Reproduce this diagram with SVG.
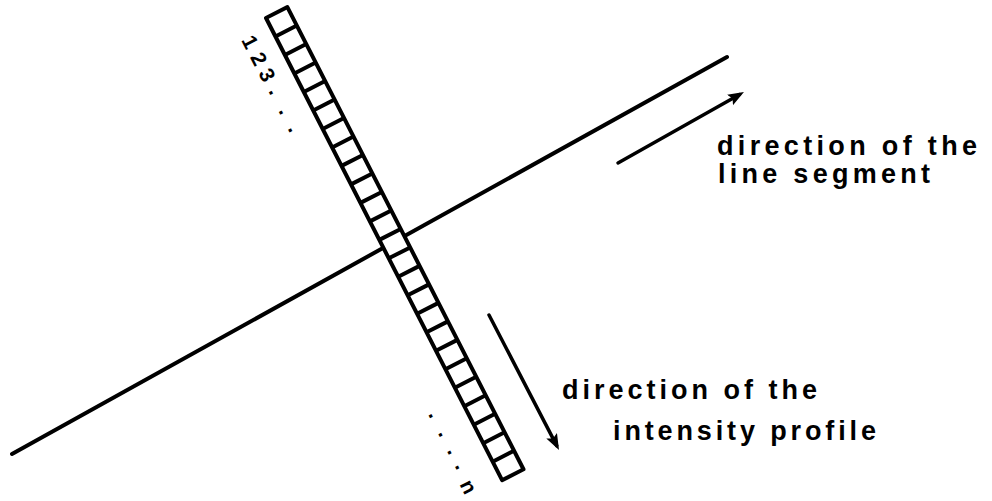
<svg xmlns="http://www.w3.org/2000/svg" width="992" height="501" viewBox="0 0 992 501">
<style>
.ln{fill:none;stroke:#000;stroke-width:4;stroke-linecap:round}
.arr{fill:none;stroke:#000;stroke-width:3.5;stroke-linecap:round}
.strip{fill:#fff;stroke:#000;stroke-width:4;stroke-linejoin:round}
.cells{fill:none;stroke:#000;stroke-width:4}
.lbl{font-family:"Liberation Sans",Arial,sans-serif;font-size:27px;font-weight:bold;fill:#000}
.idx{font-family:"Liberation Sans",Arial,sans-serif;font-size:21px;font-weight:bold;fill:#000;text-anchor:middle}
</style>
<defs>
<marker id="ah" markerWidth="18" markerHeight="14" refX="11" refY="6" orient="auto" markerUnits="userSpaceOnUse">
<path d="M0,0 L16,6 L0,12 L3,6 z" fill="#000"/>
</marker>
</defs>
<g id="line-segment">
<path class="ln" d="M12,454 L727,57"/>
</g>
<g id="strip" transform="translate(266,18) rotate(62.94)">
<rect class="strip" x="0" y="-24" width="519" height="24"/>
<path class="cells" d="M20.76,0V-24M41.52,0V-24M62.28,0V-24M83.04,0V-24M103.8,0V-24M124.56,0V-24M145.32,0V-24M166.08,0V-24M186.84,0V-24M207.6,0V-24M228.36,0V-24M249.12,0V-24M269.88,0V-24M290.64,0V-24M311.4,0V-24M332.16,0V-24M352.92,0V-24M373.68,0V-24M394.44,0V-24M415.2,0V-24M435.96,0V-24M456.72,0V-24M477.48,0V-24M498.24,0V-24"/>
</g>
<g id="index-top" transform="translate(250,42) rotate(62.94)">
<text class="idx" x="0" y="7">1</text>
<text class="idx" x="19" y="7">2</text>
<text class="idx" x="37" y="7">3</text>
<text class="idx" x="55" y="6">.</text>
<text class="idx" x="77" y="6">.</text>
<text class="idx" x="97" y="6">.</text>
</g>
<g id="index-bottom" transform="translate(433,415) rotate(62.94)">
<text class="idx" x="0" y="4">.</text>
<text class="idx" x="21" y="4">.</text>
<text class="idx" x="41" y="4">.</text>
<text class="idx" x="58" y="4">.</text>
<text class="idx" x="80" y="8">n</text>
</g>
<g id="connectors">
<path class="arr" d="M618,163 L739.6,94.5" marker-end="url(#ah)"/>
<path class="arr" d="M489,315 L556.7,445.6" marker-end="url(#ah)"/>
</g>
<g id="label-segment">
<text class="lbl" x="717" y="155" textLength="260" lengthAdjust="spacing">direction of the</text>
<text class="lbl" x="718" y="183" textLength="212" lengthAdjust="spacing">line segment</text>
</g>
<g id="label-profile">
<text class="lbl" x="562" y="399" textLength="255" lengthAdjust="spacing">direction of the</text>
<text class="lbl" x="613" y="440" textLength="263" lengthAdjust="spacing">intensity profile</text>
</g>
</svg>
